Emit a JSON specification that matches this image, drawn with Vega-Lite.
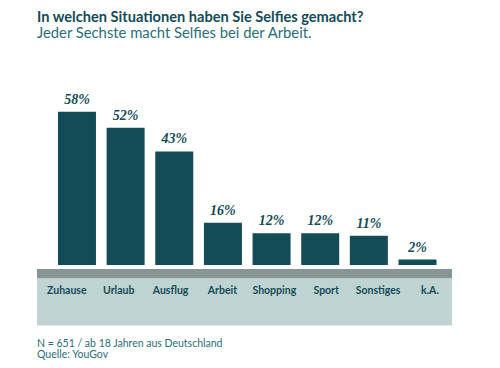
{
  "$schema": "https://vega.github.io/schema/vega-lite/v6.json",
  "padding": {"left": 37, "top": 9, "right": 5, "bottom": 5},
  "background": "white",
  "title": {
    "text": "In welchen Situationen haben Sie Selfies gemacht?",
    "subtitle": "Jeder Sechste macht Selfies bei der Arbeit.",
    "anchor": "start",
    "offset": 18,
    "font": "Lato",
    "fontSize": 14.6,
    "fontWeight": "bold",
    "color": "#134b57",
    "subtitleFont": "Lato",
    "subtitleFontSize": 14.8,
    "subtitleColor": "#2a6e78",
    "subtitlePadding": 2
  },
  "data": {
    "values": [
      {"situation": "Zuhause", "value": 58},
      {"situation": "Urlaub", "value": 52},
      {"situation": "Ausflug", "value": 43},
      {"situation": "Arbeit", "value": 16},
      {"situation": "Shopping", "value": 12},
      {"situation": "Sport", "value": 12},
      {"situation": "Sonstiges", "value": 11},
      {"situation": "k.A.", "value": 2}
    ]
  },
  "spacing": 0,
  "vconcat": [
    {
      "width": 415,
      "height": 208,
      "encoding": {
        "x": {
          "field": "situation",
          "type": "nominal",
          "sort": null,
          "scale": {"paddingInner": 0.219, "paddingOuter": 0.375, "align": 0.575},
          "axis": null
        }
      },
      "layer": [
        {
          "mark": {"type": "bar", "color": "#134b57"},
          "encoding": {
            "y": {"field": "value", "type": "quantitative", "scale": {"domain": [-0.8, 78], "nice": false, "zero": false}, "axis": null}
          }
        },
        {
          "mark": {"type": "text", "baseline": "bottom", "dy": -5, "font": "Liberation Serif", "fontSize": 14, "fontStyle": "italic", "fontWeight": "bold", "color": "#134b57", "text": {"expr": "datum.value + '%'"}},
          "encoding": {
            "y": {"field": "value", "type": "quantitative"}
          }
        }
      ]
    },
    {
      "width": 415,
      "height": 9.5,
      "view": {"fill": "#879595", "stroke": null},
      "mark": {"type": "text", "text": ""},
      "encoding": {
        "x": {
          "field": "situation",
          "type": "nominal",
          "sort": null,
          "scale": {"paddingInner": 0.219, "paddingOuter": 0.375, "align": 0.575},
          "axis": null
        }
      }
    },
    {
      "width": 415,
      "height": 46.5,
      "view": {"fill": "#bfd3d3", "stroke": null},
      "title": {
        "text": "N = 651 / ab 18 Jahren aus Deutschland",
        "subtitle": "Quelle: YouGov",
        "orient": "bottom",
        "anchor": "start",
        "offset": 13,
        "font": "Lato",
        "fontSize": 10.5,
        "fontWeight": "normal",
        "color": "#2a6e78",
        "subtitleFont": "Lato",
        "subtitleFontSize": 10.5,
        "subtitleColor": "#2a6e78",
        "subtitlePadding": 1
      },
      "mark": {"type": "text", "baseline": "middle", "dy": -11.5, "font": "Lato", "fontSize": 10.5, "fontWeight": "bold", "color": "#134b57"},
      "encoding": {
        "x": {
          "field": "situation",
          "type": "nominal",
          "sort": null,
          "scale": {"paddingInner": 0.219, "paddingOuter": 0.375, "align": 0.575},
          "axis": null
        },
        "text": {"field": "situation", "type": "nominal"}
      }
    }
  ],
  "config": {
    "view": {"stroke": null},
    "concat": {"spacing": 0}
  }
}
